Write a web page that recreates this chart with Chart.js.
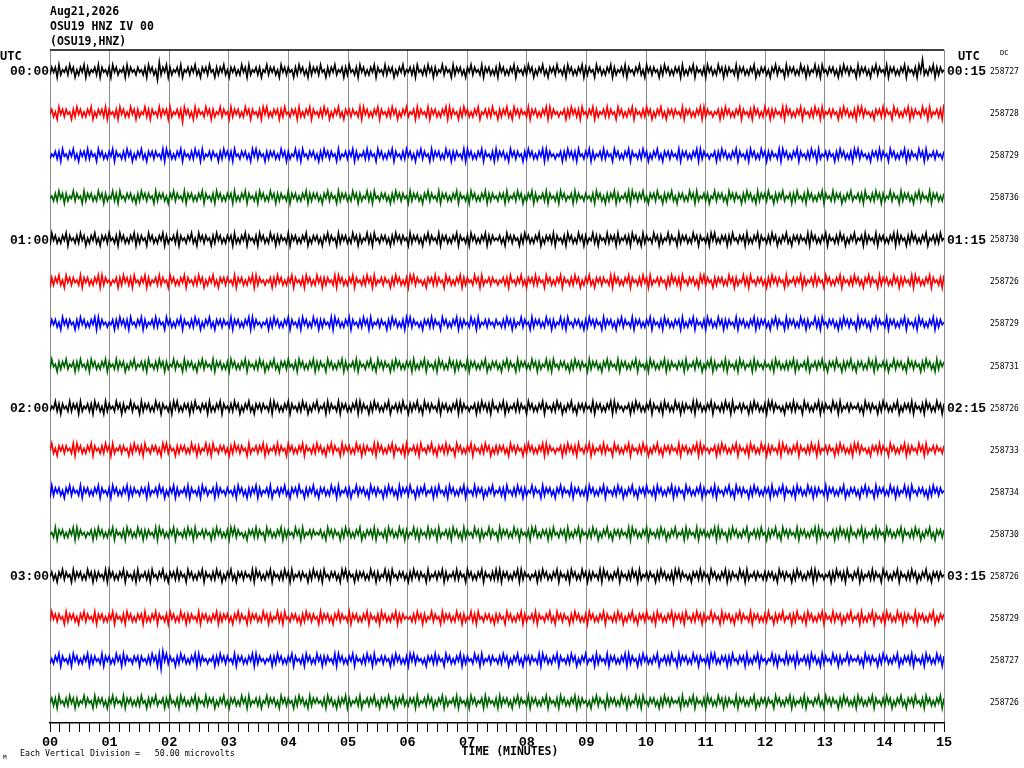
<!DOCTYPE html>
<html>
<head>
    <title>OSU19 HNZ IV 00 helicorder</title>
    <style>
        body { margin: 0; background: #fff; }
        #wrap { width: 1024px; height: 768px; }
    </style>
    <script src="https://cdn.jsdelivr.net/npm/chart.js@4/dist/chart.umd.min.js"></script>
</head>
<body>
<div id="wrap"><canvas id="heli" width="1024" height="768"></canvas></div>
<script>
    const titleLines = ['Aug21,2026', 'OSU19 HNZ IV 00', '(OSU19,HNZ)'];
    const minuteLabels = ['00','01','02','03','04','05','06','07','08','09','10','11','12','13','14','15'];
    const leftHourLabels = ['00:00','','','','01:00','','','','02:00','','','','03:00','','',''];
    const rightHourLabels = ['00:15','','','','01:15','','','','02:15','','','','03:15','','',''];
    const dcValues = ['258727','258728','258729','258736','258730','258726','258729','258731',
                      '258726','258733','258734','258730','258726','258729','258727','258726'];
    const traceColors = ['#000000', '#ff0000', '#0000ff', '#006400'];
    const noteText = 'Each Vertical Division =   50.00 microvolts';

    // trace samples, one digit per sample, written in pairs (4/5 = near the centre line, 0/9 = big swings)
    const trace00 = `
        63 53 72 64 53 62 53 74 63 52 73 64 53 62 73 54 63 72 53 64 53 72 63 54 63
        54 63 72 53 64 81 63 52 73 64 53 62 74 53 63 52 64 73 53 62 54 73 63 52 64
        73 53 64 62 53 72 64 53 63 74 52 63 53 64 72 53 63 54 73 62 53 64 72 63 53
        62 54 73 63 52 64 53 73 62 54 63 72 53 64 63 52 73 54 62 63 53 74 63 52 64
        53 63 72 54 63 62 53 73 64 52 63 54 72 63 53 64 73 52 63 54 62 73 53 64 63
        72 53 64 63 52 73 54 63 62 53 74 63 52 64 73 53 62 54 63 72 53 64 63 52 73
        63 54 72 53 64 63 52 73 64 53 62 73 54 63 52 64 72 53 63 54 73 62 53 64 63
        53 72 64 63 52 73 54 63 72 53 64 62 53 73 63 54 62 73 53 64 63 52 74 63 53
        64 73 52 63 54 72 63 53 64 62 53 73 64 52 63 72 54 63 53 64 73 62 53 63 54
        72 63 53 64 73 52 63 54 62 73 53 64 63 52 73 54 63 72 50 64 63 52 73 63 54`;
    const trace01 = `
        53 64 72 53 63 54 73 62 53 64 63 52 74 63 53 62 73 54 63 72 53 64 62 53 73
        64 52 63 73 54 62 63 53 72 64 53 63 82 53 64 72 63 54 62 53 73 64 52 63 54
        72 63 53 64 62 53 73 54 63 72 52 64 63 53 73 62 54 63 53 72 64 63 52 73 54
        63 62 53 74 63 52 64 73 53 63 54 62 72 53 64 63 52 73 54 63 62 53 74 63 52
        64 53 72 63 54 62 73 53 64 63 52 72 63 54 73 62 53 64 63 52 74 53 63 62 54
        73 63 52 64 72 53 63 54 62 73 53 64 63 52 72 63 54 64 53 73 62 53 63 72 54
        63 52 73 64 53 62 63 54 72 53 64 63 52 73 54 63 62 53 74 63 52 64 73 53 63
        54 62 73 53 64 63 52 72 63 54 64 53 73 62 53 64 63 52 73 54 63 72 53 64 62
        53 73 63 54 62 72 53 64 63 52 73 54 63 62 53 72 64 53 63 54 73 62 53 64 63
        72 52 63 54 64 73 53 62 63 54 72 53 64 63 52 73 63 54 62 53 72 64 53 63 71`;
    const trace02 = `
        64 53 63 72 54 63 52 64 73 53 62 63 54 72 53 64 63 52 73 54 63 62 53 74 63
        52 64 73 53 63 54 62 72 53 64 63 52 73 54 63 62 53 72 64 53 63 54 73 62 53
        63 72 54 63 53 64 72 52 63 54 73 63 53 64 62 53 73 64 52 63 72 54 63 53 64
        73 62 53 63 54 72 64 53 63 52 73 64 53 62 63 54 72 53 64 63 52 73 54 63 62
        53 64 73 52 63 54 72 63 53 64 62 53 73 63 54 62 72 53 64 63 52 73 54 63 72
        63 53 64 72 53 63 54 73 62 53 64 63 52 72 63 54 64 53 73 62 53 63 72 54 63
        52 73 64 53 62 63 54 72 53 64 63 52 73 54 63 62 53 74 63 52 64 73 53 63 54
        62 73 53 64 63 52 72 63 54 64 53 73 62 53 64 63 52 73 54 63 72 53 64 62 53
        73 63 54 62 72 53 64 63 52 73 54 63 62 53 72 64 53 63 54 73 62 53 64 63 72
        52 63 54 64 73 53 62 63 54 72 53 64 63 52 73 63 54 62 53 72 64 53 63 54 63`;
    const trace03 = `
        54 63 62 53 73 64 52 63 54 72 63 53 64 62 53 73 64 52 63 72 54 63 53 64 73
        62 53 63 54 72 63 53 64 73 52 63 54 62 73 53 64 63 52 73 54 63 72 53 64 63
        53 72 64 63 52 73 54 63 72 53 64 62 53 73 63 54 62 73 53 64 63 52 73 63 53
        64 73 52 63 54 72 63 53 64 62 53 73 64 52 63 72 54 63 53 64 73 62 53 63 54
        72 63 53 64 73 52 63 54 62 73 53 64 63 52 73 54 63 72 53 64 63 52 73 63 54
        63 53 72 64 53 62 53 74 63 52 73 64 53 62 73 54 63 72 53 64 53 72 63 54 63
        54 63 72 53 64 73 63 52 73 64 53 62 72 53 63 52 64 73 53 62 54 73 63 52 64
        73 53 64 62 53 72 64 53 63 74 52 63 53 64 72 53 63 54 73 62 53 64 72 63 53
        62 54 73 63 52 64 53 73 62 54 63 72 53 64 63 52 73 54 62 63 53 74 63 52 64
        53 63 72 54 63 62 53 73 64 52 63 54 72 63 53 64 73 52 63 54 62 73 53 64 63`;
    const trace04 = `
        72 53 64 63 52 73 54 63 62 53 74 63 52 64 73 53 62 54 63 72 53 64 63 52 73
        63 54 72 53 64 63 52 73 64 53 62 73 54 63 52 64 72 53 63 54 73 62 53 64 63
        53 72 64 63 52 73 54 63 72 53 64 62 53 73 63 54 62 73 53 64 63 52 74 63 53
        64 73 52 63 54 72 63 53 64 62 53 73 64 52 63 72 54 63 53 64 73 62 53 63 54
        72 63 53 64 73 52 63 54 62 73 53 64 63 52 73 54 63 72 53 64 63 52 73 63 54
        53 64 72 53 63 54 73 62 53 64 63 52 74 63 53 62 73 54 63 72 53 64 62 53 73
        64 52 63 73 54 62 63 53 72 64 53 63 72 53 64 72 63 54 62 53 73 64 52 63 54
        72 63 53 64 62 53 73 54 63 72 52 64 63 53 73 62 54 63 53 72 64 63 52 73 54
        63 62 53 74 63 52 64 73 53 63 54 62 72 53 64 63 52 73 54 63 62 53 74 63 52
        64 53 72 63 54 62 73 53 64 63 52 72 63 54 73 62 53 64 63 52 74 53 63 62 54`;
    const trace05 = `
        73 63 52 64 72 53 63 54 62 73 53 64 63 52 72 63 54 64 53 73 62 53 63 72 54
        63 52 73 64 53 62 63 54 72 53 64 63 52 73 54 63 62 53 74 63 52 64 73 53 63
        54 62 73 53 64 63 52 72 63 54 64 53 73 62 53 64 63 52 73 54 63 72 53 64 62
        53 73 63 54 62 72 53 64 63 52 73 54 63 62 53 72 64 53 63 54 73 62 53 64 63
        72 52 63 54 64 73 53 62 63 54 72 53 64 63 52 73 63 54 62 53 72 64 53 63 54
        64 53 63 72 54 63 52 64 73 53 62 63 54 72 53 64 63 52 73 54 63 62 53 74 63
        52 64 73 53 63 54 62 72 53 64 63 52 73 54 63 62 53 72 64 53 63 54 73 62 53
        63 72 54 63 53 64 72 52 63 54 73 63 53 64 62 53 73 64 52 63 72 54 63 53 64
        73 62 53 63 54 72 64 53 63 52 73 64 53 62 63 54 72 53 64 63 52 73 54 63 62
        53 64 73 52 63 54 72 63 53 64 62 53 73 63 54 62 72 53 64 63 52 73 54 63 72`;
    const trace06 = `
        63 53 64 72 53 63 54 73 62 53 64 63 52 72 63 54 64 53 73 62 53 63 72 54 63
        52 73 64 53 62 63 54 72 53 64 63 52 73 54 63 62 53 74 63 52 64 73 53 63 54
        62 73 53 64 63 52 72 63 54 64 53 73 62 53 64 63 52 73 54 63 72 53 64 62 53
        73 63 54 62 72 53 64 63 52 73 54 63 62 53 72 64 53 63 54 73 62 53 64 63 72
        52 63 54 64 73 53 62 63 54 72 53 64 63 52 73 63 54 62 53 72 64 53 63 54 63
        54 63 62 53 73 64 52 63 54 72 63 53 64 62 53 73 64 52 63 72 54 63 53 64 73
        62 53 63 54 72 63 53 64 73 52 63 54 62 73 53 64 63 52 73 54 63 72 53 64 63
        53 72 64 63 52 73 54 63 72 53 64 62 53 73 63 54 62 73 53 64 63 52 73 63 53
        64 73 52 63 54 72 63 53 64 62 53 73 64 52 63 72 54 63 53 64 73 62 53 63 54
        72 63 53 64 73 52 63 54 62 73 53 64 63 52 73 54 63 72 53 64 63 52 73 63 54`;
    const trace07 = `
        62 54 73 63 52 64 53 73 62 54 63 72 53 64 63 52 73 54 62 63 53 74 63 52 64
        53 63 72 54 63 62 53 73 64 52 63 54 72 63 53 64 73 52 63 54 62 73 53 64 63
        72 53 64 63 52 73 54 63 62 53 74 63 52 64 73 53 62 54 63 72 53 64 63 52 73
        63 54 72 53 64 63 52 73 64 53 62 73 54 63 52 64 72 53 63 54 73 62 53 64 63
        53 72 64 63 52 73 54 63 72 53 64 62 53 73 63 54 62 73 53 64 63 52 74 63 53
        64 73 52 63 54 72 63 53 64 62 53 73 64 52 63 72 54 63 53 64 73 62 53 63 54
        72 63 53 64 73 52 63 54 62 73 53 64 63 52 73 54 63 72 53 64 63 52 73 63 54
        63 53 72 64 53 62 53 74 63 52 73 64 53 62 73 54 63 72 53 64 53 72 63 54 63
        54 63 72 53 64 63 63 52 73 64 53 62 74 53 63 52 64 73 53 62 54 73 63 52 64
        73 53 64 62 53 72 64 53 63 74 52 63 53 64 72 53 63 54 73 62 53 64 72 63 53`;
    const trace08 = `
        64 52 63 73 54 62 63 53 72 64 53 63 72 53 64 72 63 54 62 53 73 64 52 63 54
        72 63 53 64 62 53 73 54 63 72 52 64 63 53 73 62 54 63 53 72 64 63 52 73 54
        63 62 53 74 63 52 64 73 53 63 54 62 72 53 64 63 52 73 54 63 62 53 74 63 52
        64 53 72 63 54 62 73 53 64 63 52 72 63 54 73 62 53 64 63 52 74 53 63 62 54
        73 63 52 64 72 53 63 54 62 73 53 64 63 52 72 63 54 64 53 73 62 53 63 72 54
        63 52 73 64 53 62 63 54 72 53 64 63 52 73 54 63 62 53 74 63 52 64 73 53 63
        54 62 73 53 64 63 52 72 63 54 64 53 73 62 53 64 63 52 73 54 63 72 53 64 62
        53 73 63 54 62 72 53 64 63 52 73 54 63 62 53 72 64 53 63 54 73 62 53 64 63
        72 52 63 54 64 73 53 62 63 54 72 53 64 63 52 73 63 54 62 53 72 64 53 63 54
        53 64 72 53 63 54 73 62 53 64 63 52 74 63 53 62 73 54 63 72 53 64 62 53 73`;
    const trace09 = `
        52 64 73 53 63 54 62 72 53 64 63 52 73 54 63 62 53 72 64 53 63 54 73 62 53
        63 72 54 63 53 64 72 52 63 54 73 63 53 64 62 53 73 64 52 63 72 54 63 53 64
        73 62 53 63 54 72 64 53 63 52 73 64 53 62 63 54 72 53 64 63 52 73 54 63 62
        53 64 73 52 63 54 72 63 53 64 62 53 73 63 54 62 72 53 64 63 52 73 54 63 72
        64 53 63 72 54 63 52 64 73 53 62 63 54 72 53 64 63 52 73 54 63 62 53 74 63
        63 53 64 72 53 63 54 73 62 53 64 63 52 72 63 54 64 53 73 62 53 63 72 54 63
        52 73 64 53 62 63 54 72 53 64 63 52 73 54 63 62 53 74 63 52 64 73 53 63 54
        62 73 53 64 63 52 72 63 54 64 53 73 62 53 64 63 52 73 54 63 72 53 64 62 53
        73 63 54 62 72 53 64 63 52 73 54 63 62 53 72 64 53 63 54 73 62 53 64 63 72
        52 63 54 64 73 53 62 63 54 72 53 64 63 52 73 63 54 62 53 72 64 53 63 54 63`;
    const trace10 = `
        72 63 53 64 73 52 63 54 62 73 53 64 63 52 73 54 63 72 53 64 63 52 73 63 54
        63 53 72 64 53 62 53 74 63 52 73 64 53 62 73 54 63 72 53 64 53 72 63 54 63
        54 63 72 53 64 73 63 52 73 64 53 62 74 53 63 52 64 73 53 62 54 73 63 52 64
        73 53 64 62 53 72 64 53 63 74 52 63 53 64 72 53 63 54 73 62 53 64 72 63 53
        62 54 73 63 52 64 53 73 62 54 63 72 53 64 63 52 73 54 62 63 53 74 63 52 64
        53 63 72 54 63 62 53 73 64 52 63 54 72 63 53 64 73 52 63 54 62 73 53 64 63
        72 53 64 63 52 73 54 63 62 53 74 63 52 64 73 53 62 54 63 72 53 64 63 52 73
        63 54 72 53 64 63 52 73 64 53 62 73 54 63 52 64 72 53 63 54 73 62 53 64 63
        53 72 64 63 52 73 54 63 72 53 64 62 53 73 63 54 62 73 53 64 63 52 74 63 53
        64 73 52 63 54 72 63 53 64 62 53 73 64 52 63 72 54 63 53 64 73 62 53 63 54`;
    const trace11 = `
        54 62 73 53 64 63 52 72 63 54 64 53 73 62 53 64 63 52 73 54 63 72 53 64 62
        53 73 63 54 62 72 53 64 63 52 73 54 63 62 53 72 64 53 63 54 73 62 53 64 63
        72 52 63 54 64 73 53 62 63 54 72 53 64 63 52 73 63 54 62 53 72 64 53 63 54
        53 64 72 53 63 54 73 62 53 64 63 52 74 63 53 62 73 54 63 72 53 64 62 53 73
        64 52 63 73 54 62 63 53 72 64 53 63 72 53 64 72 63 54 62 53 73 64 52 63 54
        72 63 53 64 62 53 73 54 63 72 52 64 63 53 73 62 54 63 53 72 64 63 52 73 54
        63 62 53 74 63 52 64 73 53 63 54 62 72 53 64 63 52 73 54 63 62 53 74 63 52
        64 53 72 63 54 62 73 53 64 63 52 72 63 54 73 62 53 64 63 52 74 53 63 62 54
        73 63 52 64 72 53 63 54 62 73 53 64 63 52 72 63 54 64 53 73 62 53 63 72 54
        63 52 73 64 53 62 63 54 72 53 64 63 52 73 54 63 62 53 74 63 52 64 73 53 63`;
    const trace12 = `
        53 64 73 52 63 54 72 63 53 64 62 53 73 63 54 62 72 53 64 63 52 73 54 63 72
        64 53 63 72 54 63 52 64 73 53 62 63 54 72 53 64 63 52 73 54 63 62 53 74 63
        52 64 73 53 63 54 62 72 53 64 63 52 73 54 63 62 53 72 64 53 63 54 73 62 53
        63 72 54 63 53 64 72 52 63 54 73 63 53 64 62 53 73 64 52 63 72 54 63 53 64
        73 62 53 63 54 72 64 53 63 52 73 64 53 62 63 54 72 53 64 63 52 73 54 63 62
        62 73 53 64 63 52 72 63 54 64 53 73 62 53 64 63 52 73 54 63 72 53 64 62 53
        73 63 54 62 72 53 64 63 52 73 54 63 62 53 72 64 53 63 54 73 62 53 64 63 72
        52 63 54 64 73 53 62 63 54 72 53 64 63 52 73 63 54 62 53 72 64 53 63 54 63
        63 53 64 72 53 63 54 73 62 53 64 63 52 72 63 54 64 53 73 62 53 63 72 54 63
        52 73 64 53 62 63 54 72 53 64 63 52 73 54 63 62 53 74 63 52 64 73 53 63 54`;
    const trace13 = `
        62 53 63 54 72 63 53 64 73 52 63 54 62 73 53 64 63 52 73 54 63 72 53 64 63
        53 72 64 63 52 73 54 63 72 53 64 62 53 73 63 54 62 73 53 64 63 52 73 63 53
        64 73 52 63 54 72 63 53 64 62 53 73 64 52 63 72 54 63 53 64 73 62 53 63 54
        72 63 53 64 73 52 63 54 62 73 53 64 63 52 73 54 63 72 53 64 63 52 73 63 54
        54 63 62 53 73 64 52 63 54 72 63 53 64 62 53 73 64 52 63 72 54 63 53 64 73
        63 54 72 53 64 63 52 73 64 53 62 73 54 63 52 64 72 53 63 54 73 62 53 64 63
        72 53 64 63 52 73 54 63 62 53 74 63 52 64 73 53 62 54 63 72 53 64 63 52 73
        53 63 72 54 63 62 53 73 64 52 63 54 72 63 53 64 73 52 63 54 62 73 53 64 63
        62 54 73 63 52 64 53 73 62 54 63 72 53 64 63 52 73 54 62 63 53 74 63 52 64
        53 72 64 63 52 73 54 63 72 53 64 62 53 73 63 54 62 73 53 64 63 52 74 63 53`;
    const trace14 = `
        64 63 52 73 54 63 72 53 64 63 52 73 63 54 62 73 53 64 62 53 72 63 54 63 53
        73 54 63 62 53 72 81 52 63 54 73 62 53 64 63 52 72 63 54 64 53 73 62 53 63
        54 62 73 53 64 63 52 72 63 54 64 53 73 62 53 64 63 52 73 54 63 72 53 64 62
        53 73 63 54 62 72 53 64 63 52 73 54 63 62 53 72 64 53 63 54 73 62 53 64 63
        72 52 63 54 64 73 53 62 63 54 72 53 64 63 52 73 63 54 62 53 72 64 53 63 54
        63 62 53 74 63 52 64 73 53 63 54 62 72 53 64 63 52 73 54 63 62 53 74 63 52
        64 53 72 63 54 62 73 53 64 63 52 72 63 54 73 62 53 64 63 52 74 53 63 62 54
        72 63 53 64 62 53 73 54 63 72 52 64 63 53 73 62 54 63 53 72 64 63 52 73 54
        64 52 63 73 54 62 63 53 72 64 53 63 72 53 64 72 63 54 62 53 73 64 52 63 54
        53 64 72 53 63 54 73 62 53 64 63 52 74 63 53 62 73 54 63 72 53 64 62 53 73`;
    const trace15 = `
        53 63 72 54 63 62 53 73 64 52 63 54 72 63 53 64 73 52 63 54 62 73 53 64 63
        62 54 73 63 52 64 53 73 62 54 63 72 53 64 63 52 73 54 62 63 53 74 63 52 64
        73 53 64 62 53 72 64 53 63 74 52 63 53 64 72 53 63 54 73 62 53 64 72 63 53
        54 63 72 53 64 73 63 52 73 64 53 62 74 53 63 52 64 73 53 62 54 73 63 52 64
        63 53 72 64 53 62 53 74 63 52 73 64 53 62 73 54 63 72 53 64 53 72 63 54 63
        72 63 53 64 73 52 63 54 62 73 53 64 63 52 73 54 63 72 53 64 63 52 73 63 54
        64 73 52 63 54 72 63 53 64 62 53 73 64 52 63 72 54 63 53 64 73 62 53 63 54
        53 72 64 63 52 73 54 63 72 53 64 62 53 73 63 54 62 73 53 64 63 52 74 63 53
        63 54 72 53 64 63 52 73 64 53 62 73 54 63 52 64 72 53 63 54 73 62 53 64 63
        72 53 64 63 52 73 54 63 62 53 74 63 52 64 73 53 62 54 63 72 53 64 63 52 73`;

    const traces = [trace00, trace01, trace02, trace03, trace04, trace05, trace06, trace07,
                    trace08, trace09, trace10, trace11, trace12, trace13, trace14, trace15];
    const traceMinutes = 15;      // each line spans 15 minutes
    const rowsPerDigit = 0.06;    // one digit step in row units

    const datasets = traces.map((s, row) => {
        const digits = s.replace(/\s/g, '').split('').map(Number);
        return {
            data: digits.map((d, i) => ({
                x: i * traceMinutes / (digits.length - 1),
                y: row + 0.5 + (d - 4.5) * rowsPerDigit
            })),
            borderColor: traceColors[row % 4],
            borderWidth: 1.6,
            pointRadius: 0,
            tension: 0,
            fill: false
        };
    });

    // 10 second ticks, labels only on the minute
    const tickValues = [];
    minuteLabels.forEach((m, i) => {
        for (let k = 0; k < 6; k++) {
            if (i === minuteLabels.length - 1 && k > 0) break;
            tickValues.push(i + k / 6);
        }
    });
    const isMinute = v => Math.abs(v - Math.round(v)) < 1e-6;

    const heliLabels = {
        id: 'heliLabels',
        afterDraw(chart) {
            const { ctx, chartArea, scales: { y } } = chart;
            ctx.save();
            ctx.strokeStyle = '#000';
            ctx.lineWidth = 1.5;
            ctx.beginPath();
            ctx.moveTo(chartArea.left, chartArea.top);
            ctx.lineTo(chartArea.right, chartArea.top);
            ctx.stroke();

            ctx.fillStyle = '#000';
            ctx.textBaseline = 'middle';
            ctx.textAlign = 'left';
            ctx.font = 'bold 11.5px "DejaVu Sans Mono"';
            titleLines.forEach((t, i) => ctx.fillText(t, 50, 12 + i * 15));

            ctx.font = 'bold 12px "DejaVu Sans Mono"';
            ctx.fillText('UTC', 0, 57);
            ctx.fillText('UTC', 958, 57);
            ctx.font = '7px "DejaVu Sans Mono"';
            ctx.fillText('DC', 1000, 53);

            leftHourLabels.forEach((t, row) => {
                const py = y.getPixelForValue(row + 0.5) + 1;
                ctx.font = 'bold 13px "Liberation Mono"';
                ctx.textAlign = 'right';
                if (t) ctx.fillText(t, 49, py);
                ctx.textAlign = 'left';
                if (rightHourLabels[row]) ctx.fillText(rightHourLabels[row], 947, py);
                ctx.font = '8px "DejaVu Sans Mono"';
                ctx.fillText(dcValues[row], 990, py);
            });

            ctx.font = 'bold 11.5px "DejaVu Sans Mono"';
            ctx.textAlign = 'center';
            ctx.fillText('TIME (MINUTES)', 510, 752);
            ctx.textAlign = 'left';
            ctx.font = '8.3px "DejaVu Sans Mono"';
            ctx.fillText(noteText, 20, 754);
            ctx.font = '6px "DejaVu Sans Mono"';
            ctx.fillText('M', 3, 757);
            ctx.restore();
        }
    };

    new Chart(document.getElementById('heli').getContext('2d'), {
        type: 'line',
        data: { datasets: datasets },
        plugins: [heliLabels],
        options: {
            responsive: false,
            animation: false,
            events: [],
            layout: { padding: { left: 50, right: 80, top: 50, bottom: 0 } },
            plugins: { legend: { display: false }, tooltip: { enabled: false } },
            scales: {
                x: {
                    type: 'linear',
                    min: 0,
                    max: traceMinutes,
                    z: 1,
                    afterBuildTicks: s => { s.ticks = tickValues.map(v => ({ value: v })); },
                    afterFit: s => { s.height = 45; },
                    ticks: {
                        autoSkip: false,
                        maxRotation: 0,
                        padding: 2,
                        color: '#000',
                        font: { family: 'Liberation Mono', weight: 'bold', size: 13.5 },
                        callback: v => isMinute(v) ? minuteLabels[Math.round(v)] : ''
                    },
                    grid: {
                        color: c => (c.tick && isMinute(c.tick.value)) ? '#8c8c8c' : 'rgba(0,0,0,0)',
                        tickColor: '#000',
                        tickLength: 9,
                        lineWidth: 1
                    },
                    border: { color: '#000', width: 1.5 }
                },
                y: { display: false, min: 0, max: 16, reverse: true }
            }
        }
    });
</script>
</body>
</html>
